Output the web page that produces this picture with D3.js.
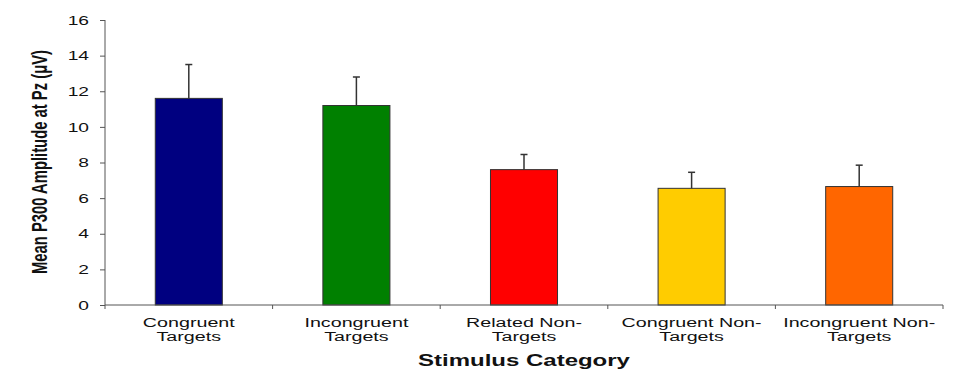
<!DOCTYPE html>
<html>
<head>
<meta charset="utf-8">
<script src="https://d3js.org/d3.v7.min.js"></script>
<style>
body { margin: 0; background: #fff; }
svg { display: block; }
text { font-family: 'Liberation Sans', Arial, sans-serif; fill: #111; }
</style>
</head>
<body>
<svg></svg>
<script>

var width = 960;
var height = 384;

// data
var categories = ["Congruent Targets", "Incongruent Targets", "Related Non-Targets", "Congruent Non-Targets", "Incongruent Non-Targets"];
var labelLines = [["Congruent", "Targets"], ["Incongruent", "Targets"], ["Related Non-", "Targets"], ["Congruent Non-", "Targets"], ["Incongruent Non-", "Targets"]];
var means = [11.6, 11.2, 7.6, 6.55, 6.65];
var errors = [1.9, 1.6, 0.85, 0.9, 1.2];
var colors = ["#000080", "#008000", "#ff0000", "#ffcc00", "#ff6600"];
var yTicks = [0, 2, 4, 6, 8, 10, 12, 14, 16];

var stretch = 1.6; // the picture's text is wider than it is tall

var svg = d3.select("svg").attr("width", width).attr("height", height);

var xScale = d3.scaleBand()
  .domain(categories)
  .range([105, 943])
  .paddingInner(0.6)
  .paddingOuter(0.3);

var yScale = d3.scaleLinear()
  .domain([0, 16])
  .range([305, 20]);

var data = categories.map(function (c, i) {
  return { cat: c, mean: means[i], err: errors[i], color: colors[i], lines: labelLines[i] };
});

// bars
svg.selectAll("rect.bar").data(data).enter().append("rect")
  .attr("class", "bar")
  .attr("x", function (d) { return xScale(d.cat); })
  .attr("width", xScale.bandwidth())
  .attr("y", function (d) { return yScale(d.mean); })
  .attr("height", function (d) { return yScale(0) - yScale(d.mean); })
  .style("fill", function (d) { return d.color; })
  .style("stroke", "#333")
  .style("stroke-width", 1);

// error bars (upper half only)
var cx = function (d) { return xScale(d.cat) + xScale.bandwidth() / 2; };
svg.selectAll("line.err").data(data).enter().append("line")
  .attr("class", "err")
  .attr("x1", cx).attr("x2", cx)
  .attr("y1", function (d) { return yScale(d.mean); })
  .attr("y2", function (d) { return yScale(d.mean + d.err); })
  .style("stroke", "#333").style("stroke-width", 1.5);
svg.selectAll("line.cap").data(data).enter().append("line")
  .attr("class", "cap")
  .attr("x1", function (d) { return cx(d) - 3.5; })
  .attr("x2", function (d) { return cx(d) + 3.5; })
  .attr("y1", function (d) { return yScale(d.mean + d.err); })
  .attr("y2", function (d) { return yScale(d.mean + d.err); })
  .style("stroke", "#333").style("stroke-width", 1.5);

// y axis
var yAxis = svg.append("g").attr("transform", "translate(105,0)")
  .call(d3.axisLeft(yScale).tickValues(yTicks).tickSize(5).tickPadding(0).tickFormat(d3.format("d")));
yAxis.select(".domain").attr("d", "M0," + yScale(16) + "V" + yScale(0)).style("stroke", "#555");
yAxis.selectAll(".tick line").style("stroke", "#555");
yAxis.selectAll(".tick text").remove();
yAxis.selectAll(".tick").append("text")
  .attr("transform", "translate(-16,0) scale(" + stretch + ",1)")
  .attr("text-anchor", "end")
  .attr("dy", "0.35em")
  .style("font-size", "12px")
  .style("font-family", "'Liberation Sans', Arial, sans-serif")
  .style("fill", "#111")
  .text(function (d) { return d; });

// x axis: ticks at category boundaries
var bounds = [];
for (var i = 0; i <= categories.length; i++) { bounds.push(105 + i * (943 - 105) / categories.length); }
svg.append("line")
  .attr("x1", 105).attr("x2", 943)
  .attr("y1", yScale(0)).attr("y2", yScale(0))
  .style("stroke", "#555").style("stroke-width", 1);
svg.selectAll("line.xtick").data(bounds).enter().append("line")
  .attr("class", "xtick")
  .attr("x1", function (d) { return d; }).attr("x2", function (d) { return d; })
  .attr("y1", yScale(0)).attr("y2", yScale(0) + 4)
  .style("stroke", "#555");

// category labels
var labels = svg.selectAll("g.xlab").data(data).enter().append("g")
  .attr("class", "xlab")
  .attr("transform", function (d) { return "translate(" + cx(d) + ",327) scale(" + stretch + ",1)"; });
labels.selectAll("text").data(function (d) { return d.lines; }).enter().append("text")
  .attr("y", function (d, i) { return i * 14.5; })
  .attr("text-anchor", "middle")
  .style("font-size", "12.3px")
  .text(function (d) { return d; });

// axis titles
svg.append("text")
  .attr("transform", "translate(524,366) scale(1.5,1)")
  .attr("text-anchor", "middle")
  .style("font-size", "16px")
  .style("font-weight", "bold")
  .text("Stimulus Category");

svg.append("text")
  .attr("transform", "translate(47,162) rotate(-90) scale(1,1.5)")
  .attr("text-anchor", "middle")
  .attr("textLength", 224)
  .attr("lengthAdjust", "spacingAndGlyphs")
  .style("font-size", "15px")
  .style("font-weight", "bold")
  .text("Mean P300 Amplitude at Pz (\u03bcV)");

</script>
</body>
</html>
